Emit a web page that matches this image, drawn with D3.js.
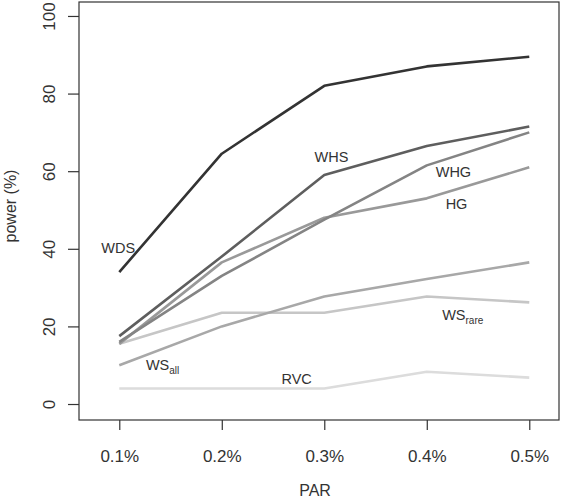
<!DOCTYPE html>
<html>
<head>
<meta charset="utf-8">
<script src="https://cdn.jsdelivr.net/npm/d3@7"></script>
<style>
  html, body { margin: 0; padding: 0; background: #fff; }
  svg { display: block; }
  text { font-family: "Liberation Sans", Arial, sans-serif; fill: #333; }
</style>
</head>
<body>
<div id="chart"></div>
<script>
// ---- data ----
const categories = ["0.1%", "0.2%", "0.3%", "0.4%", "0.5%"];
const yTicks = [0, 20, 40, 60, 80, 100];
const WDS    = [34, 64.5, 82, 87, 89.5];
const WHS    = [17.5, 38, 59, 66.5, 71.5];
const WHG    = [16, 33, 47.5, 61.5, 70];
const HG     = [15.5, 36.5, 48, 53, 61];
const WSall  = [10, 20, 27.7, 32.2, 36.5];
const WSrare = [15.5, 23.5, 23.5, 27.7, 26.2];
const RVC    = [4, 4, 4, 8.3, 6.8];
const seriesNames = ["WDS", "WHS", "WHG", "HG", "WSall", "WSrare", "RVC"];
const seriesValues = [WDS, WHS, WHG, HG, WSall, WSrare, RVC];
const seriesColors = ["#333333", "#5e5e5e", "#848484", "#999999", "#a8a8a8", "#c6c6c6", "#dcdcdc"];
// label positions in data units: [category position (1-based), value]
const labelMain = ["WDS", "WHS", "WHG", "HG", "WS", "WS", "RVC"];
const labelSub  = ["", "", "", "", "all", "rare", ""];
const labelX    = [0.99, 3.07, 4.26, 4.29, 1.26, 4.15, 2.73];
const labelY    = [40.2, 63.7, 59.9, 51.5, 10, 22.9, 6.4];
const labelAnchor = ["middle", "middle", "middle", "middle", "start", "start", "middle"];

// ---- layout ----
const W = 562, H = 504;
const mLeft = 79, mRight = 559, mTop = 2, mBottom = 420;

const svg = d3.select("#chart").append("svg").attr("width", W).attr("height", H);

const x = d3.scaleLinear().domain([0.607, 5.29]).range([mLeft, mRight]);
const y = d3.scaleLinear().domain([-4.12, 103.6]).range([mBottom, mTop]);

// box
svg.append("rect").attr("x", mLeft).attr("y", mTop)
  .attr("width", mRight - mLeft).attr("height", mBottom - mTop)
  .attr("fill", "none").attr("stroke", "#333").attr("stroke-width", 1.2);

// x axis
const xAxis = d3.axisBottom(x)
  .tickValues(categories.map((d, i) => i + 1))
  .tickFormat((d, i) => categories[i])
  .tickSize(10).tickPadding(20);
const gx = svg.append("g").attr("transform", `translate(0,${mBottom})`).call(xAxis);
gx.select(".domain").remove();
gx.selectAll(".tick line").attr("stroke", "#333").attr("stroke-width", 1.2);
gx.selectAll(".tick text").attr("font-size", 17).attr("fill", "#4a4a4a")
  .attr("font-family", "Liberation Sans, Arial, sans-serif");

// y axis
const yAxis = d3.axisLeft(y).tickValues(yTicks).tickSize(11).tickPadding(0).tickFormat(d3.format("d"));
const gy = svg.append("g").attr("transform", `translate(${mLeft},0)`).call(yAxis);
gy.select(".domain").remove();
gy.selectAll(".tick line").attr("stroke", "#333").attr("stroke-width", 1.2);
gy.selectAll(".tick text")
  .attr("font-size", 17).attr("fill", "#4a4a4a")
  .attr("font-family", "Liberation Sans, Arial, sans-serif")
  .attr("text-anchor", "middle")
  .attr("dy", null)
  .attr("x", null)
  .attr("transform", "translate(-24,0) rotate(-90)");

// axis titles
svg.append("text").attr("x", (mLeft + mRight) / 2 - 4).attr("y", 496)
  .attr("text-anchor", "middle").attr("font-size", 16).attr("fill", "#4a4a4a").text("PAR");
svg.append("text")
  .attr("transform", `translate(10,${(mTop + mBottom) / 2 - 5}) rotate(-90)`)
  .attr("text-anchor", "middle").attr("font-size", 16).attr("fill", "#4a4a4a")
  .attr("dominant-baseline", "central").text("power (%)");

// lines
const line = d3.line().x((d, i) => x(i + 1)).y(d => y(d));
const order = [6, 5, 4, 3, 2, 1, 0];
order.forEach(k => {
  svg.append("path")
    .datum(seriesValues[k])
    .attr("d", line)
    .attr("fill", "none")
    .attr("stroke", seriesColors[k])
    .attr("stroke-width", 2.6)
    .attr("stroke-linejoin", "round");
});

// labels
labelMain.forEach((m, k) => {
  const t = svg.append("text")
    .attr("x", x(labelX[k])).attr("y", y(labelY[k]))
    .attr("text-anchor", labelAnchor[k])
    .attr("dominant-baseline", "central")
    .attr("font-size", 14.5).attr("fill", "#333");
  t.append("tspan").text(m);
  if (labelSub[k]) {
    t.append("tspan").attr("font-size", 10).attr("dy", 5).text(labelSub[k]);
  }
});
</script>
</body>
</html>
